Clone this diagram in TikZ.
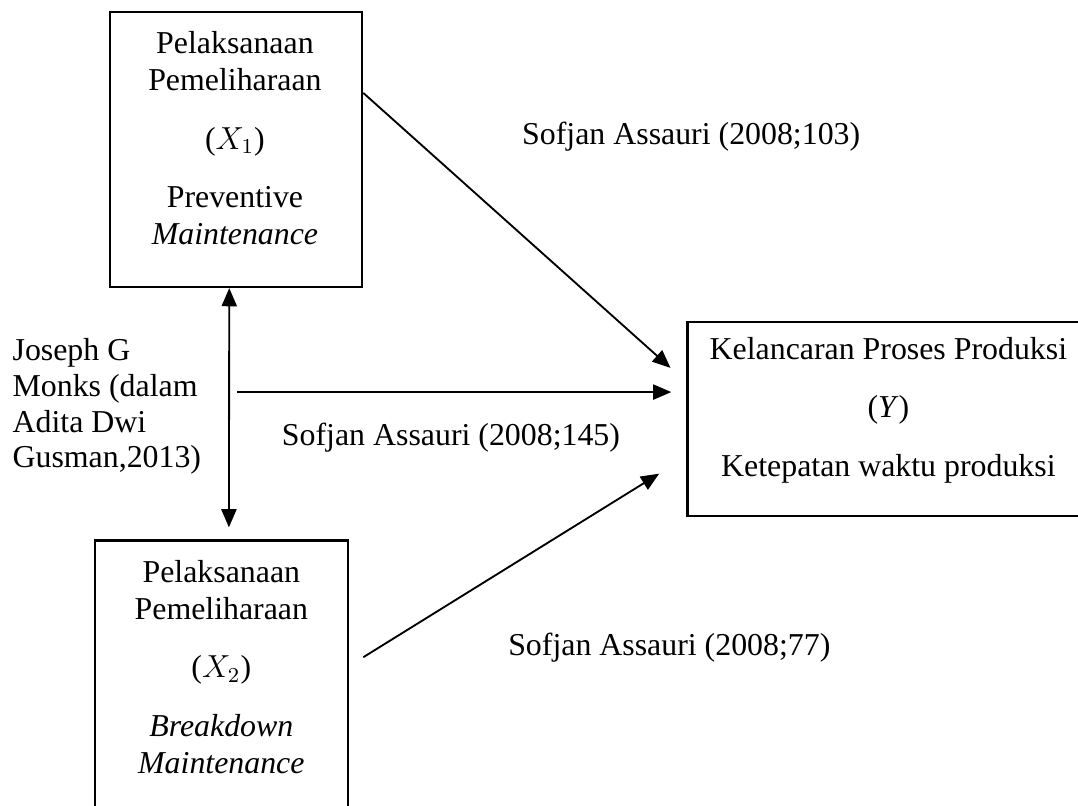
\documentclass[tikz,border=0pt]{standalone}
\usepackage{fontspec}
\setmainfont{Liberation Serif}
\usepackage{tikz}
\usetikzlibrary{arrows.meta}

\begin{document}
\begin{tikzpicture}[
  box/.style={draw, line width=0.8pt, inner sep=0pt},
  boxtext/.style={align=center, font=\fontsize{12}{14}\selectfont},
  cite/.style={font=\fontsize{12}{14}\selectfont},
  link/.style={line width=0.7pt, -{Triangle[length=0.24cm, width=0.2cm]}}
]
  \useasboundingbox (0, 0) rectangle (14.27, -10.66);

  \node[box, minimum width=3.34cm, minimum height=3.64cm] (x1) at (3.125, -1.98) {};
  \node[boxtext] (x1text) at (3.11, -1.83) {Pelaksanaan\\Pemeliharaan\\[8pt]($X_1$)\\[8pt]Preventive\\\textit{Maintenance}};

  \node[box, minimum width=3.35cm, minimum height=3.65cm] (x2) at (2.93, -8.98) {};
  \node[boxtext] (x2text) at (2.93, -8.83) {Pelaksanaan\\Pemeliharaan\\[8pt]($X_2$)\\[8pt]\textit{Breakdown}\\\textit{Maintenance}};

  \node[box, minimum width=5.32cm, minimum height=2.57cm] (y) at (11.76, -5.55) {};
  \node[boxtext] (ytext) at (11.76, -5.43) {Kelancaran Proses Produksi\\[8pt](\textit{Y})\\[8pt]Ketepatan waktu produksi};

  \node[cite] (c103) at (9.15, -1.81) {Sofjan Assauri (2008;103)};
  \node[cite] (c145) at (5.97, -5.79) {Sofjan Assauri (2008;145)};
  \node[cite] (c77) at (8.86, -8.57) {Sofjan Assauri (2008;77)};
  \node[cite, align=left, anchor=west, inner sep=0pt, font=\fontsize{12}{13.5}\selectfont] (monks) at (0.16, -5.38) {Joseph G\\Monks (dalam\\Adita Dwi\\Gusman,2013)};

  \coordinate (hstart) at (3.14, -5.19);

  \draw[link] (x1.24) -- ([xshift=-0.21cm, yshift=0.68cm]y.west);
  \draw[link] (hstart) -- ([xshift=-0.2cm, yshift=0.36cm]y.west);
  \draw[link] ([xshift=0.19cm, yshift=0.28cm]x2.east) -- ([xshift=-0.36cm, yshift=-0.72cm]y.west);
  \draw[link, {Triangle[length=0.24cm, width=0.2cm]}-{Triangle[length=0.24cm, width=0.2cm]}] ([xshift=-0.09cm]x1.south) -- ([xshift=0.1cm, yshift=0.16cm]x2.north);
\end{tikzpicture}
\end{document}
